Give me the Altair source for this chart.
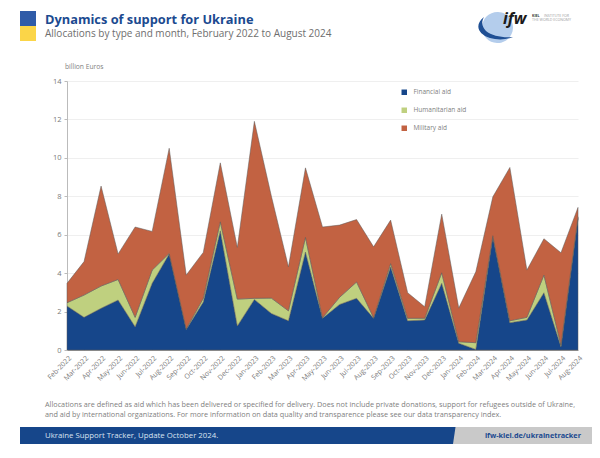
import altair as alt
import pandas as pd

months = ["Feb-2022","Mar-2022","Apr-2022","May-2022","Jun-2022","Jul-2022","Aug-2022","Sep-2022","Oct-2022","Nov-2022","Dec-2022",
          "Jan-2023","Feb-2023","Mar-2023","Apr-2023","May-2023","Jun-2023","Jul-2023","Aug-2023","Sep-2023","Oct-2023","Nov-2023","Dec-2023",
          "Jan-2024","Feb-2024","Mar-2024","Apr-2024","May-2024","Jun-2024","Jul-2024","Aug-2024"]
financial = [2.29,1.70,2.17,2.60,1.21,3.47,5.00,1.07,2.50,6.20,1.25,2.63,1.90,1.52,5.10,1.65,2.37,2.69,1.65,4.33,1.52,1.56,3.47,0.35,0.03,5.90,1.42,1.56,2.98,0.17,6.85]
humanitarian = [0.17,1.16,1.16,1.07,0.49,0.69,0.03,0.03,0.19,0.47,1.40,0.06,0.80,0.52,0.76,0.03,0.37,0.85,0.03,0.17,0.13,0.09,0.55,0.08,0.35,0.05,0.10,0.14,0.92,0.09,0.08]
military = [1.01,1.74,5.20,1.33,4.70,2.01,5.47,2.80,2.39,3.07,2.69,9.21,5.30,2.29,3.62,4.72,3.76,3.25,3.69,2.26,1.33,0.60,3.05,1.75,3.69,2.02,7.98,2.46,1.89,4.80,0.49]
series_names = ["Financial aid","Humanitarian aid","Military aid"]
series_colors = ["#16468a","#bfd07f","#c26242"]
y_ticks = [0,2,4,6,8,10,12,14]

title = "Dynamics of support for Ukraine"
subtitle = "Allocations by type and month, February 2022 to August 2024"
unit = "billion Euros"
note1 = "Allocations are defined as aid which has been delivered or specified for delivery. Does not include private donations, support for refugees outside of Ukraine,"
note2 = "and aid by international organizations. For more information on data quality and transparence please see our data transparency index."
footer_left = "Ukraine Support Tracker, Update October 2024."
footer_right = "ifw-kiel.de/ukrainetracker"
FONT = "Open Sans"

L, T, W, H = 67, 81, 511, 269
def px(v): return v - L
def py(v): return v - T

rows = []
for name, vals, k in zip(series_names, [financial, humanitarian, military], range(3)):
    for m, v in zip(months, vals):
        rows.append({"month": m, "value": v, "type": name, "k": k})
df = pd.DataFrame(rows)

areas = alt.Chart(df).mark_area(stroke="#5a5a5a", strokeWidth=0.5, opacity=1).encode(
    x=alt.X("month:N", sort=months, scale=alt.Scale(type="point", padding=0),
            axis=alt.Axis(title=None, labelAngle=-45, labelAlign="right", labelBaseline="top", labelFontSize=7,
                          labelColor="#7a7a7a", labelFont=FONT, domainColor="#999999", ticks=False, labelPadding=4,
                          labelOverlap=False, grid=False)),
    y=alt.Y("value:Q", stack="zero", scale=alt.Scale(domain=[0,14]),
            axis=alt.Axis(title=None, values=y_ticks, labelFontSize=7.5, labelColor="#7a7a7a", labelFont=FONT,
                          domainColor="#bbbbbb", tickColor="#bbbbbb", tickSize=3, gridColor="#efefef", labelPadding=3)),
    color=alt.Color("type:N", sort=series_names, scale=alt.Scale(domain=series_names, range=series_colors),
                    legend=alt.Legend(title=None, orient="none", legendX=px(401), legendY=py(89), symbolType="square",
                                      symbolSize=30, symbolStrokeWidth=0, labelFontSize=6.5, labelColor="#808080", labelFont=FONT,
                                      rowPadding=11, labelOffset=6)),
    order=alt.Order("k:Q", sort="ascending"),
)

one = pd.DataFrame({"a": [0]})
def text(s, x, y, size, color, weight="normal", align="left", style="normal"):
    return alt.Chart(one).mark_text(text=s, align=align, baseline="middle", fontSize=size, color=color,
                                    fontWeight=weight, font=FONT, fontStyle=style).encode(x=alt.value(px(x)), y=alt.value(py(y)))
def shape(path, color):
    # the path is written in page pixels, from a point placed at the page origin
    return alt.Chart(one).mark_point(shape=path, size=4, filled=True, color=color, opacity=1, strokeWidth=0).encode(
        x=alt.value(px(0)), y=alt.value(py(0)))
def rect(x1, y1, x2, y2, color):
    return shape(f"M{x1},{y1}L{x2},{y1}L{x2},{y2}L{x1},{y2}Z", color)

layers = [
    areas,
    rect(20, 11, 36, 26, "#2f5ba8"),
    rect(20, 26, 36, 41, "#fbd548"),
    text(title, 45, 19.5, 12.8, "#1b4a90", "bold"),
    text(subtitle, 45, 34, 10, "#6e6e6e"),
    text(unit, 65, 67, 6.7, "#808080"),
    shape("M498,12A15.5,15.5 0 1 1 497,43A15.5,15.5 0 1 1 498,12Z", "#b4cdec"),
    shape("M484,17C474,25 478,34 490,38C497,40 506,40 513,37C503,38 492,36 486,31C482,27 481,22 484,17Z", "#1f4f94"),
    text("ifw", 503, 19, 16, "#1a1a1a", "bold", style="italic"),
    text("KIEL", 532, 15.5, 3.6, "#333333", "bold"),
    text("INSTITUTE FOR", 544, 15.5, 3.6, "#a0a0a0"),
    text("THE WORLD ECONOMY", 532, 20, 3.6, "#a0a0a0"),
    text(note1, 45, 405, 7.27, "#808080"),
    text(note2, 45, 414.5, 7.27, "#808080"),
    shape("M453,427L600,427L600,444L453,444Z", "#c9c9c9"),
    shape("M20,427L455.5,427L453,444L20,444Z", "#16468a"),
    text(footer_left, 45, 436, 7.8, "#dbe4f1"),
    text(footer_right, 581, 436, 7.3, "#1b4a90", "bold", "right"),
]

chart = alt.layer(*layers).resolve_scale(color="independent").properties(
    width=W, height=H,
    autosize=alt.AutoSizeParams(type="none"),
    padding={"left": L - 8, "top": T - 8, "right": 600 - 8 - L - W, "bottom": 450 - T + 8 - H - 8},
    background="white",
).configure_view(stroke=None)

chart.save("out.html", embed_options={"renderer": "svg", "actions": False})
